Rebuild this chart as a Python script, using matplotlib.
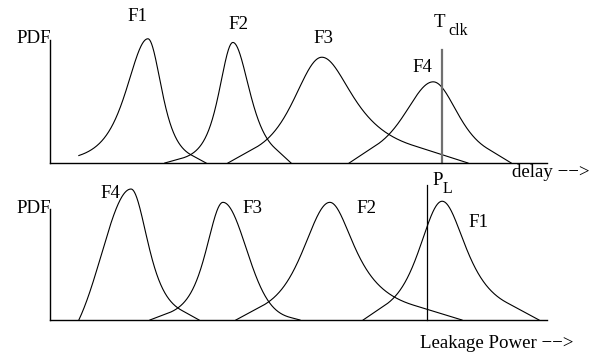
import numpy as np
import matplotlib
matplotlib.use("Agg")
import matplotlib.pyplot as plt

plt.rcParams['font.family'] = ['Liberation Serif', 'DejaVu Serif']

W, H = 607, 353

# ---- delay distributions (x in 0..100 delay units, y relative density) ----
delay_names  = ["F1", "F2", "F3", "F4"]
delay_lo     = [5.8, 23.1, 35.8, 60.2]     # left end of each curve
delay_mode   = [19.7, 36.8, 54.7, 77.1]    # peak location
delay_hi     = [31.4, 48.5, 84.1, 92.8]    # right end of each curve
delay_peak   = [1.01, 0.98, 0.86, 0.66]    # peak height
delay_lo_h   = [0.06, 0.0, 0.0, 0.0]       # height at left end
delay_wl     = [5.6, 3.6, 7.4, 7.6]        # left spread
delay_pl     = [2, 2, 2, 2]                # left tail shape
delay_wr     = [3.6, 4.4, 8.2, 6.6]        # right spread
delay_pr     = [2, 2, 1, 2]                # right tail shape
t_clk        = 78.9
t_clk_top    = 0.92

# ---- leakage distributions ----
leak_names   = ["F4", "F3", "F2", "F1"]
leak_lo      = [5.8, 20.1, 37.4, 63.0]
leak_mode    = [16.3, 34.8, 56.3, 78.9]
leak_hi      = [30.0, 50.3, 82.9, 98.4]
leak_peak    = [1.18, 1.06, 1.06, 1.07]
leak_lo_h    = [0.0, 0.0, 0.0, 0.0]
leak_wl      = [8.5, 4.4, 7.0, 6.0]
leak_pl      = [20, 2, 2, 2]
leak_wr      = [4.4, 6.6, 6.4, 6.2]
leak_pr      = [2, 20, 1, 1.3]
p_limit      = 75.9
p_limit_top  = 1.22


def one_side(dist, w, p, reach, end_h):
    """Bell flank over distance `dist` from the mode; the far tail is a
    straight tangent running down to the baseline at `reach`."""
    core = lambda d: (1.0 + (d / w) ** 2 / p) ** (-p)
    if end_h > 0:
        return core(dist)
    g = np.linspace(0, reach, 2000)
    s = core(g)
    ds = np.gradient(s, g)
    f = s + ds * (reach - g)
    neg = np.where(f <= 0)[0]
    if len(neg) == 0:
        sr = core(reach)
        return (core(dist) - sr) / (1 - sr)
    it = min(neg[-1] + 1, len(g) - 2)
    dt, st = g[it], s[it]
    out = core(dist)
    m = dist > dt
    out[m] = st * (reach - dist[m]) / (reach - dt)
    return np.clip(out, 0, None)


def curve(lo, mode, hi, peak, lo_h, wl, pl, wr, pr):
    xl = np.linspace(lo, mode, 300)
    xr = np.linspace(mode, hi, 400)
    yl = one_side(mode - xl, wl, pl, mode - lo, lo_h / peak)
    yr = one_side(xr - mode, wr, pr, hi - mode, 0.0)
    return np.concatenate([xl, xr]), peak * np.concatenate([yl, yr])


def px(x, y):
    return x / W, 1 - y / H


fig = plt.figure(figsize=(W / 100, H / 100), dpi=100)
fig.patch.set_facecolor("white")

ax_top = fig.add_axes([50 / W, (H - 163) / H, 497 / W, 123 / H])
ax_bot = fig.add_axes([50 / W, (H - 320) / H, 497 / W, 111 / H])

for ax in (ax_top, ax_bot):
    ax.set_xlim(0, 100)
    ax.set_ylim(0, 1)
    ax.set_facecolor("none")
    for side in ("top", "right"):
        ax.spines[side].set_visible(False)
    for side in ("left", "bottom"):
        ax.spines[side].set_linewidth(1.0)
        ax.spines[side].set_color("black")
    ax.set_xticks([])
    ax.set_yticks([])

for i in range(4):
    x, y = curve(delay_lo[i], delay_mode[i], delay_hi[i], delay_peak[i],
                 delay_lo_h[i], delay_wl[i], delay_pl[i], delay_wr[i], delay_pr[i])
    ax_top.plot(x, y, color="black", lw=0.8, clip_on=False)
    x, y = curve(leak_lo[i], leak_mode[i], leak_hi[i], leak_peak[i],
                 leak_lo_h[i], leak_wl[i], leak_pl[i], leak_wr[i], leak_pr[i])
    ax_bot.plot(x, y, color="black", lw=0.8, clip_on=False)

ax_top.plot([t_clk, t_clk], [0, t_clk_top], color="#707070", lw=1.6, clip_on=False)
ax_bot.plot([p_limit, p_limit], [0, p_limit_top], color="black", lw=0.9, clip_on=False)

fs = 13.6
arrow = " \u2212\u2212>"
# delay panel labels
fig.text(*px(51, 43), "PDF", ha="right", va="baseline", fontsize=fs)
fig.text(*px(138, 21), "F1", ha="center", va="baseline", fontsize=fs)
fig.text(*px(238, 29), "F2", ha="center", va="baseline", fontsize=fs)
fig.text(*px(323, 43), "F3", ha="center", va="baseline", fontsize=fs)
fig.text(*px(422, 72), "F4", ha="center", va="baseline", fontsize=fs)
fig.text(*px(434, 27), "T", ha="left", va="baseline", fontsize=fs)
fig.text(*px(448, 35), "clk", ha="left", va="baseline", fontsize=fs * 0.85)
fig.text(*px(512, 177), "delay" + arrow, ha="left", va="baseline", fontsize=fs)

# leakage panel labels
fig.text(*px(51, 213), "PDF", ha="right", va="baseline", fontsize=fs)
fig.text(*px(110, 198), "F4", ha="center", va="baseline", fontsize=fs)
fig.text(*px(252, 213), "F3", ha="center", va="baseline", fontsize=fs)
fig.text(*px(366, 213), "F2", ha="center", va="baseline", fontsize=fs)
fig.text(*px(479, 227), "F1", ha="center", va="baseline", fontsize=fs)
fig.text(*px(432, 185), "P", ha="left", va="baseline", fontsize=fs)
fig.text(*px(442.5, 193), "L", ha="left", va="baseline", fontsize=fs * 0.85)
fig.text(*px(420, 348), "Leakage Power" + arrow, ha="left", va="baseline", fontsize=fs)

fig.savefig("out.png", dpi=100, facecolor="white")
